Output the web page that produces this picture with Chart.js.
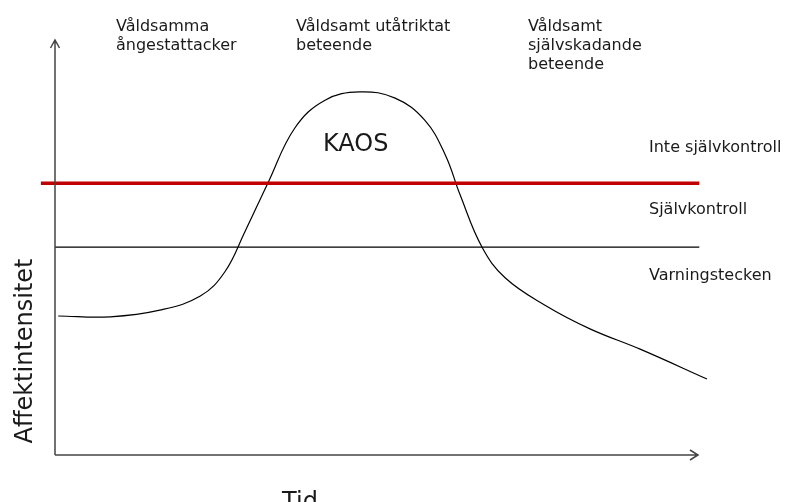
<!DOCTYPE html>
<html>
<head>
<meta charset="utf-8">
<script src="https://cdn.jsdelivr.net/npm/chart.js@4"></script>
<style>
  body { margin: 0; background: #fff; }
</style>
</head>
<body>
<canvas id="grafico" width="787" height="502"></canvas>
<script>
// tid (0-100) och affektintensitet (0-100)
const curveTime = [0.5, 8.6, 16.3, 22.6, 26.4, 29.5, 33.1, 37.3, 42, 47.4, 52.9, 57.5, 60.7, 63, 66.4, 70, 76.2, 83.2, 91, 101.4];
const curveIntensity = [33.5, 33.3, 34.9, 38.3, 44.1, 53.7, 65.5, 78.8, 85.5, 87.5, 86, 80.7, 72.3, 62.7, 50.1, 42.7, 36.1, 30.4, 25.5, 18.3];

const redLineTime = [-2.2, 100.2];
const redLineLevel = 65.5;
const blackLineTime = [0, 100.2];
const blackLineLevel = 50.1;

const topLabels = [
  ["Våldsamma", "ångestattacker"],
  ["Våldsamt utåtriktat", "beteende"],
  ["Våldsamt", "självskadande", "beteende"],
];
const zoneLabels = ["Inte självkontroll", "Självkontroll", "Varningstecken"];
const peakLabel = "KAOS";
const yTitle = "Affektintensitet";
const xTitle = "Tid";

const FONT = "'DejaVu Sans', Verdana, sans-serif";

const toPoints = (xs, ys) => xs.map((x, i) => ({ x: x, y: ys[i] }));

// axlar med pilar + all text
const decorations = {
  id: "decorations",
  afterDraw(chart) {
    const ctx = chart.ctx;
    const xs = chart.scales.x;
    const ys = chart.scales.y;
    const x0 = xs.getPixelForValue(0);
    const x1 = xs.getPixelForValue(100);
    const y0 = ys.getPixelForValue(0);
    const y1 = ys.getPixelForValue(100);

    ctx.save();
    ctx.strokeStyle = "#444";
    ctx.lineWidth = 1.5;
    ctx.beginPath();
    ctx.moveTo(x0, y0);
    ctx.lineTo(x0, y1);
    ctx.moveTo(x0 - 4.5, y1 + 8);
    ctx.lineTo(x0, y1);
    ctx.lineTo(x0 + 4.5, y1 + 8);
    ctx.moveTo(x0, y0);
    ctx.lineTo(x1, y0);
    ctx.moveTo(x1 - 8, y0 - 5);
    ctx.lineTo(x1, y0);
    ctx.lineTo(x1 - 8, y0 + 5);
    ctx.stroke();

    ctx.fillStyle = "#1a1a1a";
    ctx.textBaseline = "alphabetic";
    ctx.textAlign = "left";
    ctx.font = "16px " + FONT;
    const topX = [116, 296, 528];
    topLabels.forEach((lines, i) => {
      lines.forEach((line, j) => ctx.fillText(line, topX[i], 31 + j * 19));
    });
    const zoneY = [152, 214, 280];
    zoneLabels.forEach((t, i) => ctx.fillText(t, 649, zoneY[i]));

    ctx.font = "24px " + FONT;
    ctx.fillText(peakLabel, 323, 151);
    ctx.textAlign = "center";
    ctx.fillText(xTitle, 300, 509);

    ctx.translate(32, 351);
    ctx.rotate(-Math.PI / 2);
    ctx.fillText(yTitle, 0, 0);
    ctx.restore();
  },
};

new Chart(document.getElementById("grafico").getContext("2d"), {
  type: "line",
  data: {
    datasets: [
      {
        data: toPoints(redLineTime, [redLineLevel, redLineLevel]),
        borderColor: "#c00000",
        borderWidth: 3.5,
        pointRadius: 0,
        clip: false,
      },
      {
        data: toPoints(blackLineTime, [blackLineLevel, blackLineLevel]),
        borderColor: "#000",
        borderWidth: 1.2,
        pointRadius: 0,
        clip: false,
      },
      {
        data: toPoints(curveTime, curveIntensity),
        borderColor: "#000",
        borderWidth: 1.2,
        pointRadius: 0,
        tension: 0.4,
        clip: false,
      },
    ],
  },
  options: {
    responsive: false,
    animation: false,
    layout: { padding: { left: 55, top: 40, right: 89, bottom: 47 } },
    plugins: { legend: { display: false }, tooltip: { enabled: false } },
    scales: {
      x: { type: "linear", min: 0, max: 100, display: false },
      y: { type: "linear", min: 0, max: 100, display: false },
    },
  },
  plugins: [decorations],
});
</script>
</body>
</html>
